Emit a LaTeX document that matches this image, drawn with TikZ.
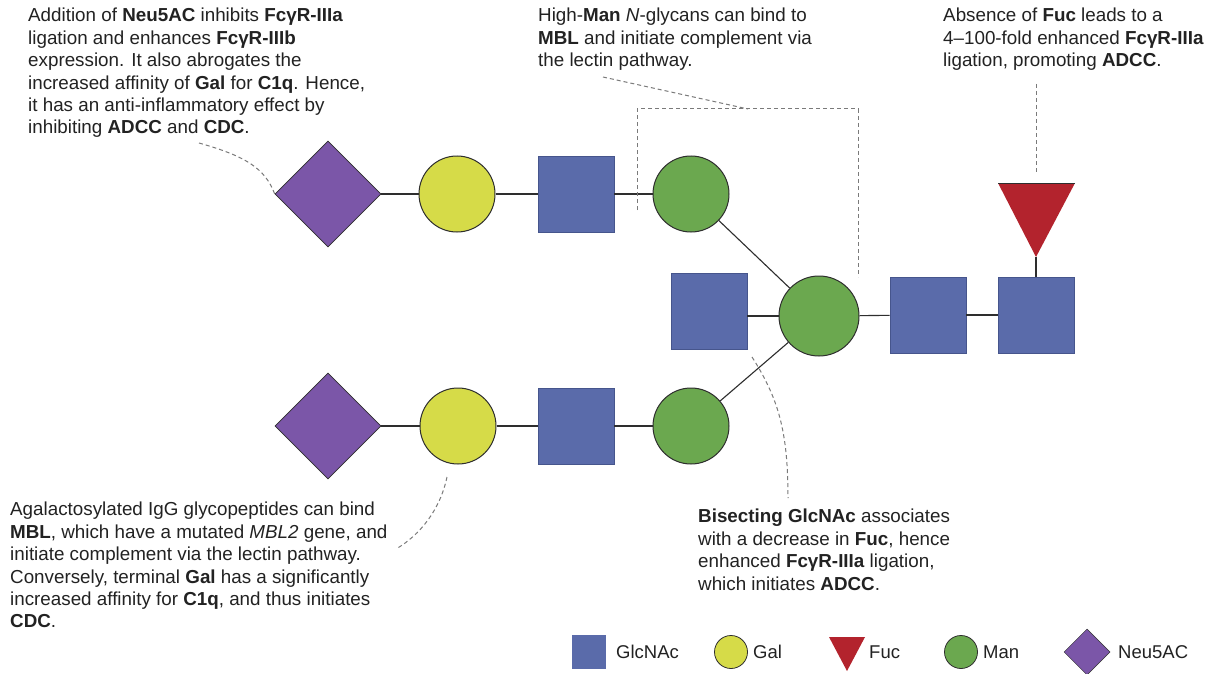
\documentclass[tikz,border=0pt]{standalone}
\usepackage{fontspec}
\setmainfont{Liberation Sans}
\usetikzlibrary{shapes.geometric}
\definecolor{glcblue}{HTML}{5A6BAA}
\definecolor{glcedge}{HTML}{46558C}
\definecolor{galyel}{HTML}{D6DB48}
\definecolor{mangreen}{HTML}{6BA84F}
\definecolor{fucred}{HTML}{B3232D}
\definecolor{neupurp}{HTML}{7B56A8}
\definecolor{edgedark}{HTML}{2E2E2E}
\definecolor{dashgray}{HTML}{7A7A7A}
\definecolor{txt}{HTML}{222222}
\tikzset{
  glc/.style={rectangle, minimum size=76pt, inner sep=0, fill=glcblue, draw=glcedge, line width=0.6pt},
  gal/.style={circle, minimum size=76pt, inner sep=0, fill=galyel, draw=edgedark, line width=1pt},
  man/.style={circle, minimum size=76pt, inner sep=0, fill=mangreen, draw=edgedark, line width=1pt},
  neu/.style={diamond, minimum size=106pt, inner sep=0, fill=neupurp, draw=edgedark, line width=0.6pt},
  bond/.style={draw=edgedark, line width=1.1pt},
  note/.style={dashgray, dash pattern=on 4pt off 3pt, line width=1pt},
  txtblock/.style={anchor=north west, inner sep=0, align=left, text=txt, font=\fontsize{18.8}{22.4}\selectfont},
  legtxt/.style={anchor=west, inner sep=0, text=txt, font=\fontsize{18.5}{22}\selectfont},
}
\begin{document}
\begin{tikzpicture}[x=1pt, y=-1pt]
\path[use as bounding box, fill=white] (0,0) rectangle (1209,674);

% upper arm
\node[neu] (neu1) at (328,194) {};
\node[gal] (gal1) at (457,194) {};
\node[glc] (glc1) at (576,194) {};
\node[man] (man1) at (691,194) {};
% lower arm
\node[neu] (neu2) at (328,426) {};
\node[gal] (gal2) at (458,426) {};
\node[glc] (glc2) at (576,426) {};
\node[man] (man2) at (691,426) {};
% core
\node[glc] (bis) at (709,311) {};
\node[man, minimum size=80pt] (core) at (819,316) {};
\node[glc] (r1) at (928,315) {};
\node[glc] (r2) at (1036,315) {};
% fucose triangle
\coordinate (fucL) at (998,183);
\coordinate (fucR) at (1075,183);
\coordinate (fuc) at (1036,257);
\fill[fucred] (fucL) -- (fucR) -- (fuc) -- cycle;
\draw[edgedark, line width=0.5pt] (fucL) -- (fucR);

% bonds
\draw[bond] (neu1) -- (gal1);
\draw[bond] (gal1) -- (glc1);
\draw[bond] (glc1) -- (man1);
\draw[bond] (man1) -- (core);
\draw[bond] (neu2) -- (gal2);
\draw[bond] (gal2) -- (glc2);
\draw[bond] (glc2) -- (man2);
\draw[bond] (man2) -- (core);
\draw[bond] (bis.east |- core.center) -- (core);
\draw[bond] (core) -- (r1);
\draw[bond] (r1) -- (r2);
\draw[bond] (fuc) -- (r2.north);

% texts
\node[txtblock] (t1) at (28,8) {Addition of \textbf{Neu5AC} inhibits \textbf{FcγR-IIIa}\\ligation and enhances \textbf{FcγR-IIIb}\\expression. It also abrogates the\\increased affinity of \textbf{Gal} for \textbf{C1q}. Hence,\\it has an anti-inflammatory effect by\\inhibiting \textbf{ADCC} and \textbf{CDC}.};
\node[txtblock] (t2) at (538,8) {High-\textbf{Man} \textit{N}-glycans can bind to\\\textbf{MBL} and initiate complement via\\the lectin pathway.};
\node[txtblock] (t3) at (943,8) {Absence of \textbf{Fuc} leads to a\\4–100-fold enhanced \textbf{FcγR-IIIa}\\ligation, promoting \textbf{ADCC}.};
\node[txtblock] (t4) at (10,502) {Agalactosylated IgG glycopeptides can bind\\\textbf{MBL}, which have a mutated \textit{MBL2} gene, and\\initiate complement via the lectin pathway.\\Conversely, terminal \textbf{Gal} has a significantly\\increased affinity for \textbf{C1q}, and thus initiates\\\textbf{CDC}.};
\node[txtblock] (t5) at (698,509) {\textbf{Bisecting GlcNAc} associates\\with a decrease in \textbf{Fuc}, hence\\enhanced \textbf{FcγR-IIIa} ligation,\\which initiates \textbf{ADCC}.};

% dashed leaders
\coordinate (d1) at (199,143);
\draw[note] (d1) .. controls (245,156) and (265,168) .. (neu1.west);
\coordinate (d2a) at (637,210);
\coordinate (d2b) at (637,109);
\coordinate (d2c) at (858,109);
\coordinate (d2d) at (858,277);
\draw[note] (d2a) -- (d2b) -- (d2c) -- (d2d);
\coordinate (d2s) at (603,77);
\coordinate (d2e) at (748,109);
\draw[note] (d2s) -- (d2e);
\coordinate (d3) at (1036,84);
\coordinate (d3e) at (1036,173);
\draw[note] (d3) -- (d3e);
\coordinate (d4s) at (447,477);
\coordinate (d4e) at (396,549);
\draw[note] (d4s) .. controls (440,510) and (420,535) .. (d4e);
\coordinate (d5s) at (752,357);
\coordinate (d5e) at (788,498);
\draw[note] (d5s) .. controls (778,398) and (788,430) .. (d5e);

% legend
\node[rectangle, minimum size=34pt, inner sep=0, fill=glcblue] (lg1) at (589,652) {};
\node[legtxt] (lt1) at (616,652) {GlcNAc};
\node[circle, minimum size=33pt, inner sep=0, fill=galyel, draw=edgedark, line width=0.8pt] (lg2) at (731,652) {};
\node[legtxt] (lt2) at (753,652) {Gal};
\coordinate (lfL) at (829,637);
\coordinate (lfR) at (865,637);
\coordinate (lfA) at (847,671);
\fill[fucred] (lfL) -- (lfR) -- (lfA) -- cycle;
\node[legtxt] (lt3) at (869,652) {Fuc};
\node[circle, minimum size=33pt, inner sep=0, fill=mangreen, draw=edgedark, line width=0.8pt] (lg4) at (961,652) {};
\node[legtxt] (lt4) at (983,652) {Man};
\node[diamond, minimum size=46pt, inner sep=0, fill=neupurp, draw=edgedark, line width=0.5pt] (lg5) at (1087,652) {};
\node[legtxt] (lt5) at (1118,652) {Neu5AC};
\end{tikzpicture}
\end{document}
